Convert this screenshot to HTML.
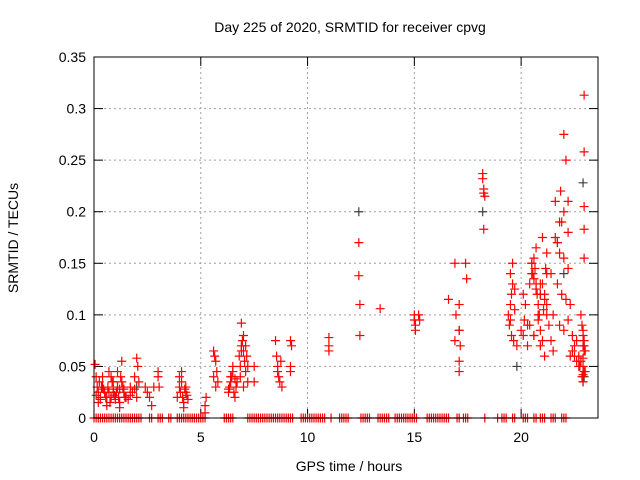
<!DOCTYPE html>
<html><head><meta charset="utf-8"><style>
html,body{margin:0;padding:0;background:#fff;}
svg{display:block;font-family:"Liberation Sans",sans-serif;}
</style></head><body>
<svg id="chart" width="640" height="480" viewBox="0 0 640 480"></svg>
<script>
const xTicks=[0,5,10,15,20];
const yTicks=[0,0.05,0.1,0.15,0.2,0.25,0.3,0.35];
const yTickLabels=["0","0.05","0.1","0.15","0.2","0.25","0.3","0.35"];
const early=[[0.05,0.052],[0.1,0.04],[0.15,0.03],[0.2,0.025],[0.25,0.035],[0.3,0.02],[0.35,0.03],[0.4,0.04],[0.45,0.028],[0.1,0.022],[0.2,0.015],[0.3,0.018],[0.4,0.03],[0.5,0.025],[0.55,0.02],[0.6,0.012],[0.65,0.03],[0.7,0.025],[0.75,0.015],[0.8,0.02],[0.85,0.035],[0.9,0.028],[0.95,0.022],[1.0,0.018],[1.05,0.025],[1.1,0.03],[1.15,0.02],[1.2,0.015],[1.25,0.04],[1.3,0.035],[1.35,0.03],[1.4,0.028],[1.45,0.02],[0.7,0.045],[0.8,0.04],[0.9,0.035],[1.0,0.02],[1.1,0.045],[1.2,0.01],[1.3,0.055],[1.4,0.025],[0.6,0.02],[0.9,0.025],[1.2,0.028],[1.5,0.02],[1.6,0.018],[1.7,0.03],[1.8,0.025],[1.9,0.04],[2.0,0.058],[2.05,0.05],[2.1,0.035],[1.7,0.022],[1.9,0.028],[2.0,0.02],[2.4,0.03],[2.5,0.025],[2.6,0.02],[2.7,0.012],[2.8,0.03],[3.0,0.045],[3.0,0.04],[3.05,0.03]];
const morning=[[3.9,0.02],[4.0,0.03],[4.05,0.025],[4.1,0.035],[4.15,0.02],[4.2,0.015],[4.25,0.028],[4.3,0.03],[4.35,0.022],[4.0,0.04],[4.1,0.045],[4.2,0.01],[4.3,0.025],[4.4,0.018],[5.2,0.012],[5.25,0.02],[5.2,0.005],[5.6,0.065],[5.65,0.06],[5.7,0.055],[5.75,0.045],[5.6,0.04],[5.7,0.03],[5.8,0.035],[6.3,0.025],[6.35,0.03],[6.4,0.035],[6.45,0.04],[6.5,0.045],[6.55,0.025],[6.6,0.02],[6.65,0.03],[6.7,0.035],[6.4,0.04],[6.5,0.05],[6.6,0.038],[6.3,0.028],[6.8,0.06],[6.85,0.05],[6.9,0.07],[6.95,0.075],[7.0,0.065],[7.05,0.055],[7.1,0.045],[7.15,0.06],[7.2,0.05],[6.9,0.092],[7.0,0.08],[7.1,0.07],[6.85,0.04],[7.0,0.03],[7.2,0.035],[6.9,0.065],[7.5,0.05],[7.5,0.035],[8.5,0.075],[8.55,0.06],[8.6,0.045],[8.65,0.04],[8.7,0.035],[8.8,0.03],[8.6,0.05],[8.75,0.055],[9.2,0.075],[9.25,0.07],[9.2,0.05],[9.2,0.045]];
const midday=[[11.0,0.078],[11.0,0.07],[11.0,0.065],[12.4,0.17],[12.4,0.138],[12.45,0.11],[12.45,0.08],[13.4,0.106],[15.0,0.1],[15.0,0.095],[15.05,0.09],[15.05,0.085],[15.2,0.1],[15.25,0.095],[16.6,0.115],[16.9,0.15],[16.95,0.1],[16.9,0.075],[17.1,0.11],[17.1,0.085],[17.15,0.07],[17.1,0.055],[17.1,0.045],[17.4,0.15],[17.45,0.135],[18.2,0.237],[18.2,0.232],[18.25,0.222],[18.25,0.218],[18.3,0.215],[18.25,0.183]];
const evening=[[19.4,0.1],[19.5,0.11],[19.55,0.12],[19.6,0.13],[19.5,0.14],[19.6,0.15],[19.7,0.125],[19.45,0.09],[19.55,0.08],[19.65,0.075],[19.7,0.105],[19.5,0.095],[19.8,0.07],[20.0,0.085],[20.1,0.08],[20.15,0.095],[20.2,0.11],[20.1,0.12],[20.3,0.09],[20.4,0.13],[20.5,0.15],[20.55,0.14],[20.6,0.135],[20.65,0.145],[20.7,0.125],[20.75,0.12],[20.8,0.11],[20.85,0.1],[20.9,0.13],[20.5,0.14],[20.6,0.155],[20.7,0.165],[20.8,0.095],[20.9,0.085],[21.0,0.075],[21.05,0.105],[21.1,0.115],[21.15,0.145],[21.2,0.14],[21.0,0.13],[21.1,0.12],[21.2,0.11],[20.4,0.09],[20.6,0.08],[20.8,0.1],[21.0,0.175],[21.2,0.16],[20.5,0.15],[20.7,0.13],[20.9,0.12],[21.1,0.06],[20.3,0.07],[20.6,0.08],[20.9,0.07],[21.2,0.1],[21.3,0.09],[21.4,0.075],[21.5,0.065]];
const late=[[21.6,0.21],[21.8,0.19],[22.0,0.2],[22.2,0.18],[21.6,0.175],[21.8,0.16],[22.0,0.155],[22.2,0.145],[21.4,0.14],[21.7,0.13],[21.9,0.12],[22.1,0.115],[22.3,0.11],[21.5,0.1],[21.8,0.09],[22.0,0.085],[22.2,0.095],[22.3,0.06],[22.4,0.065],[22.5,0.07],[22.6,0.075],[22.4,0.08],[22.5,0.06],[22.6,0.055],[22.7,0.05],[22.8,0.1],[22.85,0.09],[22.9,0.08],[22.95,0.07],[23.0,0.065],[22.7,0.06],[22.8,0.055],[22.9,0.05],[23.0,0.045],[22.75,0.05],[22.85,0.04],[22.95,0.045],[22.9,0.035],[22.9,0.042],[22.95,0.065],[22.9,0.07],[22.95,0.075],[22.9,0.058],[22.95,0.313],[22.95,0.258],[22.95,0.205],[22.95,0.183],[22.95,0.155],[22.9,0.085],[22.0,0.275],[22.1,0.25],[21.85,0.22],[21.9,0.19],[21.7,0.17],[22.2,0.21]];
const darkPoints=[[12.4,0.2],[18.2,0.2],[22.9,0.228],[22.9,0.035],[21.7,0.17],[22.0,0.14],[17.1,0.085],[19.8,0.05],[20.9,0.12],[2.0,0.03],[22.95,0.04]];
const zeroHours=[0,0.1,0.2,0.3,0.4,0.5,0.6,0.7,0.8,0.9,1.0,1.1,1.2,1.3,1.4,1.5,1.6,1.7,1.8,1.9,2.0,2.1,2.2,2.6,2.7,3.0,3.1,3.2,3.5,3.6,3.9,4.0,4.1,4.2,4.3,4.4,4.5,4.6,4.7,4.8,4.9,5.0,5.1,5.2,6.1,6.2,6.3,6.4,6.5,7.2,7.3,7.4,7.5,7.6,7.7,7.8,7.9,8.0,8.1,8.2,8.3,8.4,8.5,8.6,8.7,8.8,8.9,9.0,9.1,9.2,9.3,9.7,9.8,9.9,10.0,10.1,10.2,10.3,10.4,10.5,10.6,10.7,10.8,11.1,11.5,11.6,11.7,11.8,11.9,12.5,12.6,12.7,12.8,12.9,13.3,13.4,13.5,13.6,13.7,13.8,14.1,14.2,14.3,14.4,14.5,14.6,14.7,14.8,14.9,15.0,15.1,15.6,15.7,15.8,15.9,16.0,16.1,16.2,16.3,16.4,16.5,16.6,17.0,17.1,17.3,17.4,17.5,18.3,18.9,19.1,19.2,19.3,19.6,19.7,20.1,20.2,20.3,20.6,20.7,20.9,21.0,21.1,21.4,21.5,21.6,21.9,22.0,22.1];
const X0=94,X1=598,Y0=418,Y1=57,XMAX=23.6,YMAX=0.35;
function sx(h){return X0+h/XMAX*(X1-X0);}
function sy(v){return Y0-v/YMAX*(Y0-Y1);}
const NS="http://www.w3.org/2000/svg";
const svg=document.getElementById('chart');
function mk(tag,attrs,parent){const e=document.createElementNS(NS,tag);for(const k in attrs)e.setAttribute(k,attrs[k]);(parent||svg).appendChild(e);return e;}
yTicks.forEach((v,i)=>{
 if(i>0&&i<yTicks.length-1){const g=mk('line',{x1:X0,x2:X1,y1:sy(v),y2:sy(v),stroke:'#a0a0a0','stroke-dasharray':'2,3'});
 
 }
 mk('line',{x1:X0,x2:X0+9,y1:sy(v),y2:sy(v),stroke:'#000'});
 mk('line',{x1:X1-9,x2:X1,y1:sy(v),y2:sy(v),stroke:'#000'});
 const lb=mk('text',{x:X0-8,y:sy(v)+5,'text-anchor':'end','font-size':'14',fill:'#000'});
 lb.textContent=yTickLabels[i];
 
 
});
xTicks.forEach(h=>{
 if(h>0){const g=mk('line',{x1:sx(h),x2:sx(h),y1:Y1,y2:Y0,stroke:'#a0a0a0','stroke-dasharray':'2,3'});
 
 }
 mk('line',{x1:sx(h),x2:sx(h),y1:Y0,y2:Y0-9,stroke:'#000'});
 mk('line',{x1:sx(h),x2:sx(h),y1:Y1,y2:Y1+9,stroke:'#000'});
 const lb=mk('text',{x:sx(h),y:Y0+24,'text-anchor':'middle','font-size':'14',fill:'#000'});
 lb.textContent=String(h);
 
 
});
function plus(h,v,col,name){
 const p=mk('path',{d:`M${sx(h)-4.5},${sy(v)}h9M${sx(h)},${sy(v)-4.5}v9`,stroke:col,'stroke-width':'1.2',fill:'none'});
 
 
}
zeroHours.forEach(h=>plus(h,0,'#ff0000','zero-point'));
darkPoints.forEach(p=>plus(p[0],p[1],'#404040','dark-point'));
[early,morning,midday,evening,late].forEach(c=>c.forEach(p=>plus(p[0],p[1],'#ff0000','srmtid-point')));
const frame=mk('rect',{x:X0,y:Y1,width:X1-X0,height:Y0-Y1,fill:'none',stroke:'#000','stroke-width':'1'});


const title=mk('text',{x:350,y:32,'text-anchor':'middle','font-size':'14',fill:'#000'});
title.textContent='Day 225 of 2020, SRMTID for receiver cpvg';


const xt=mk('text',{x:349,y:471,'text-anchor':'middle','font-size':'14',fill:'#000'});
xt.textContent='GPS time / hours';


const yt=mk('text',{x:0,y:0,'text-anchor':'middle','font-size':'14',fill:'#000',transform:'translate(18,238) rotate(-90)'});
yt.textContent='SRMTID / TECUs';


</script>
</body></html>
